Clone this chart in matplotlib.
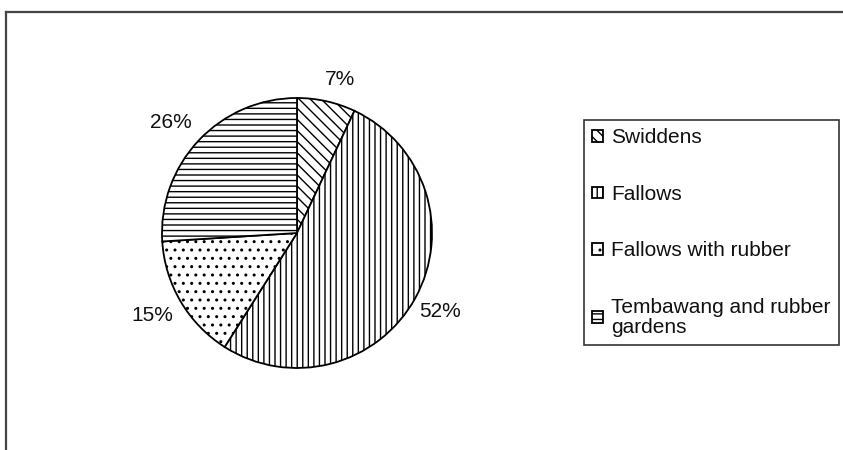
import numpy as np
import matplotlib
matplotlib.use("Agg")
import matplotlib.pyplot as plt
from matplotlib.lines import Line2D

# ============================================================
# Chart data
# ============================================================

CATEGORIES = ["Swiddens", "Fallows", "Fallows with rubber", "Tembawang and rubber\ngardens"]
SHARES = [7, 52, 15, 26]
HATCHES = ["\\\\\\", "|||", "..", "---"]

# label placement around the pie (radii from centre, angle tweak in degrees)
LABEL_DIST = [1.18, 1.21, 1.23, 1.24]
LABEL_ANGLE_SHIFT = [-3, 0, -1, 2]


def main():
    plt.rcParams["font.family"] = ["Liberation Sans", "DejaVu Sans"]
    plt.rcParams["hatch.linewidth"] = 1.0

    fig = plt.figure(figsize=(8.43, 4.5), dpi=100)
    fig.patch.set_facecolor("white")

    # pie axes: centre ~ (297, 233) px, radius ~ 135 px
    cx, cy, r = 297, 450 - 233, 135
    ax = fig.add_axes([(cx - r) / 843, (cy - r) / 450, 2 * r / 843, 2 * r / 450])
    wedges, _ = ax.pie(
        SHARES,
        startangle=90,
        counterclock=False,
        radius=1.0,
        colors=["white"] * len(SHARES),
        wedgeprops=dict(edgecolor="black", linewidth=1.3),
    )
    for w, h in zip(wedges, HATCHES):
        w.set_hatch(h)

    total = float(sum(SHARES))
    for w, share, dist, shift in zip(wedges, SHARES, LABEL_DIST, LABEL_ANGLE_SHIFT):
        mid = np.deg2rad((w.theta1 + w.theta2) / 2 + shift)
        ax.text(dist * np.cos(mid), dist * np.sin(mid), f"{share / total * 100:.0f}%",
                ha="center", va="center", fontsize=15, color="#111111")

    ax.set_xlim(-1, 1)
    ax.set_ylim(-1, 1)
    ax.set_aspect("equal")
    ax.axis("off")

    leg = fig.legend(
        wedges, CATEGORIES,
        loc="upper left",
        bbox_to_anchor=(584 / 843, 1 - 120 / 450),
        fontsize=15,
        frameon=True,
        fancybox=False,
        edgecolor="black",
        handlelength=0.5,
        handleheight=0.5,
        handletextpad=0.4,
        labelspacing=1.8,
        borderpad=0.4,
        borderaxespad=0,
    )
    leg.get_frame().set_linewidth(1.2)
    for t in leg.get_texts():
        t.set_linespacing(1.05)
        t.set_color("#111111")

    # outer chart frame (cropped at right and bottom)
    fig.add_artist(Line2D([6 / 843, 1.0], [1 - 12 / 450, 1 - 12 / 450],
                          transform=fig.transFigure, color="#444444", lw=1.6))
    fig.add_artist(Line2D([6 / 843, 6 / 843], [0, 1 - 12 / 450],
                          transform=fig.transFigure, color="#444444", lw=1.6))

    fig.savefig("out.png", dpi=100)
    plt.close(fig)


if __name__ == "__main__":
    main()
